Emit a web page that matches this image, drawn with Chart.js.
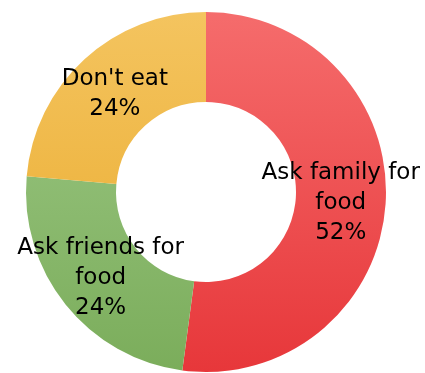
<!DOCTYPE html>
<html>
<head>
<meta charset="utf-8">
<script src="https://cdn.jsdelivr.net/npm/chart.js@4/dist/chart.umd.min.js"></script>
<style>
html,body{margin:0;padding:0;background:#fff;}
#wrap{width:425px;height:373px;position:relative;}
</style>
</head>
<body>
<div id="wrap"><canvas id="c" width="425" height="373"></canvas></div>
<script>
const categories = ["Ask family for food", "Ask friends for food", "Don't eat"];
const labelLines = [["Ask family for", "food"], ["Ask friends for", "food"], ["Don't eat"]];
const values = [52.1, 24.3, 23.6];
const topColors = ["#f56c6c", "#9ec987", "#f4c45f"];
const bottomColors = ["#e7373a", "#7bad5b", "#e9a92a"];

function grad(ctx) {
  const chart = ctx.chart;
  const a = chart.chartArea;
  if (!a) return topColors[ctx.dataIndex];
  const g = chart.ctx.createLinearGradient(0, a.top, 0, a.bottom);
  g.addColorStop(0, topColors[ctx.dataIndex]);
  g.addColorStop(1, bottomColors[ctx.dataIndex]);
  return g;
}

const labelPlugin = {
  id: 'sliceLabels',
  afterDatasetsDraw(chart) {
    const ctx = chart.ctx;
    const meta = chart.getDatasetMeta(0);
    ctx.save();
    ctx.font = '23px "DejaVu Sans"';
    ctx.fillStyle = '#000';
    ctx.textAlign = 'center';
    ctx.textBaseline = 'middle';
    const lh = 30;
    meta.data.forEach((arc, i) => {
      const p = arc.tooltipPosition();
      const lines = labelLines[i].concat([Math.round(values[i]) + '%']);
      const y0 = p.y + 2 - (lines.length - 1) * lh / 2;
      lines.forEach((t, k) => ctx.fillText(t, p.x, y0 + k * lh));
    });
    ctx.restore();
  }
};

new Chart(document.getElementById('c'), {
  type: 'doughnut',
  data: {
    labels: categories,
    datasets: [{
      data: values,
      backgroundColor: grad,
      borderWidth: 0
    }]
  },
  options: {
    responsive: false,
    animation: false,
    cutout: '50%',
    layout: { padding: { left: 0, right: 13, top: 12, bottom: 1 } },
    plugins: { legend: { display: false }, tooltip: { enabled: false } }
  },
  plugins: [labelPlugin]
});
</script>
</body>
</html>
